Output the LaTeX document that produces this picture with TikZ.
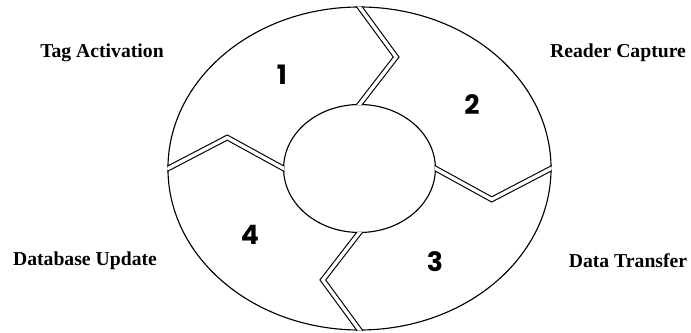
\documentclass[tikz,border=0pt]{standalone}
\usepackage{fontspec}
\setmainfont{Liberation Serif}
\newfontfamily\digitfont{Poppins}
\usetikzlibrary{calc}

\begin{document}
\begin{tikzpicture}[x=0.025cm, y=0.025cm,
        ring/.style={draw=black, line width=0.8pt},
        seam/.style={draw=black, line width=0.8pt, double=white, double distance=2.4pt, line join=miter},
        stage/.style={font=\bfseries\fontsize{14}{16}\selectfont, inner sep=0pt},
        num/.style={font=\digitfont\bfseries\fontsize{19}{20}\selectfont, inner sep=0pt}
    ]
        \useasboundingbox (-359.5,-164.5) rectangle (331.5,168.5);
        \begin{scope}[xscale=1.186]
            \draw[ring] (0,0) circle (161.5);
            \draw[ring] (0,0) circle (64);
            % the four cuts between the stages
            \begin{scope}[even odd rule]
                \clip (0,0) circle (162.1) (0,0) circle (63.4);
                \foreach \a [evaluate=\a as \b using \a-15.5] in {90,0,-90,180} {
                    \coordinate (o) at (\a:161.5);
                    \coordinate (m) at (\b:115.7);
                    \coordinate (i) at (\a:64);
                    \draw[seam] ($(m)!1.2!(o)$) -- (m) -- ($(m)!1.2!(i)$);
                }
            \end{scope}
        \end{scope}

        \node[num] (n1) at (-77.5,93.5) {1};
        \node[num] (n2) at (112.5,63.5) {2};
        \node[num] (n3) at (75.5,-93.5) {3};
        \node[num] (n4) at (-109.5,-66.5) {4};

        \node[stage] (tag) at (-257.5,115.5) {Tag Activation};
        \node[stage] (reader) at (258.5,115.5) {Reader Capture};
        \node[stage] (database) at (-274.5,-92.5) {Database Update};
        \node[stage] (transfer) at (268.5,-92) {Data Transfer};
    \end{tikzpicture}
\end{document}
